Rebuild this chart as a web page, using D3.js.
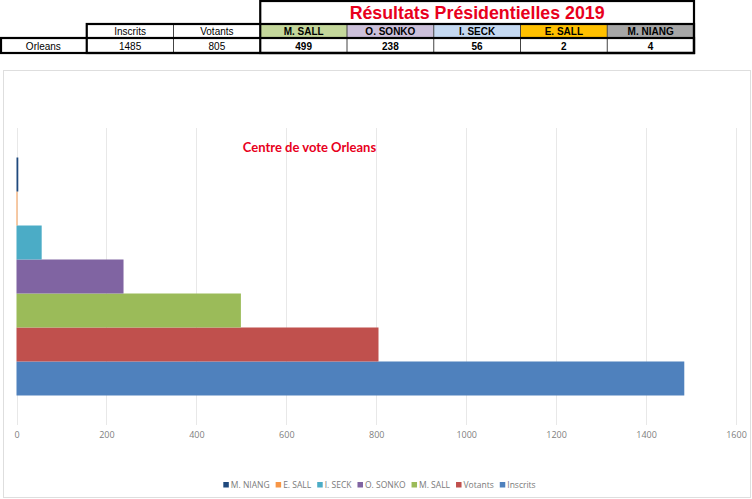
<!DOCTYPE html>
<html><head><meta charset="utf-8">
<script src="https://cdn.jsdelivr.net/npm/d3@7"></script>
<style>
html,body{margin:0;padding:0;background:#fff;}
svg{display:block;}
</style></head>
<body>
<svg id="c" width="752" height="499"></svg>
<script>
// ---- data ----
const categories = ["Orleans"];
const series = ["Inscrits", "Votants", "M. SALL", "O. SONKO", "I. SECK", "E. SALL", "M. NIANG"];
const values = [1485, 805, 499, 238, 56, 2, 4];
const seriesColors = ["#4f81bd", "#c0504d", "#9bbb59", "#8064a2", "#4bacc6", "#f79646", "#1f497d"];
const headerFills = ["#ffffff", "#ffffff", "#c4d79b", "#ccc0da", "#c5d9f1", "#ffc000", "#a6a6a6"];
const tickValues = [0, 200, 400, 600, 800, 1000, 1200, 1400, 1600];
const tableTitle = "Résultats Présidentielles 2019";
const chartTitle = "Centre de vote Orleans";
const legendOrder = ["M. NIANG", "E. SALL", "I. SECK", "O. SONKO", "M. SALL", "Votants", "Inscrits"];

const svg = d3.select("#c");

// ---- table ----
const colX = d3.scaleBand().domain(["label"].concat(series)).range([0, 694]);
const tb = svg.append("g").attr("font-family", "'Liberation Sans', Arial, sans-serif");
const rowY = {title: [0.5, 24], head: [24, 38], data: [38, 53]};
// title cell
tb.append("rect").attr("x", colX("M. SALL")).attr("y", rowY.title[0])
  .attr("width", colX("M. NIANG") + colX.bandwidth() - colX("M. SALL")).attr("height", rowY.title[1] - rowY.title[0])
  .attr("fill", "#fff");
tb.append("text").attr("x", (colX("M. SALL") + colX("M. NIANG") + colX.bandwidth()) / 2).attr("y", 19)
  .attr("text-anchor", "middle").attr("font-size", 17.8).attr("font-weight", "bold").attr("fill", "#e8001c")
  .text(tableTitle);
// header cells
series.forEach((s, i) => {
  tb.append("rect").attr("x", colX(s)).attr("y", rowY.head[0]).attr("width", colX.bandwidth())
    .attr("height", rowY.head[1] - rowY.head[0]).attr("fill", headerFills[i]);
  tb.append("text").attr("x", colX(s) + colX.bandwidth() / 2).attr("y", 35)
    .attr("text-anchor", "middle").attr("font-size", 10).attr("font-weight", i >= 2 ? "bold" : "normal")
    .attr("fill", "#000").text(s);
  tb.append("text").attr("x", colX(s) + colX.bandwidth() / 2).attr("y", 49.5)
    .attr("text-anchor", "middle").attr("font-size", 10).attr("font-weight", i >= 2 ? "bold" : "normal")
    .attr("fill", "#000").text(values[i]);
});
tb.append("text").attr("x", colX("label") + colX.bandwidth() / 2).attr("y", 49.5)
  .attr("text-anchor", "middle").attr("font-size", 10).attr("fill", "#000").text(categories[0]);
// thin inner lines
const thin = tb.append("g").attr("stroke", "#444").attr("stroke-width", 1);
series.forEach((s, i) => {
  if (i === 1 || (i > 2)) {
    thin.append("line").attr("x1", colX(s)).attr("x2", colX(s)).attr("y1", rowY.head[0]).attr("y2", rowY.data[1]);
  }
});
// thick borders
const thick = tb.append("g").attr("stroke", "#000").attr("stroke-width", 2.2).attr("fill", "none");
const right = colX("M. NIANG") + colX.bandwidth();
thick.append("rect").attr("x", colX("M. SALL")).attr("y", 1).attr("width", right - colX("M. SALL")).attr("height", 52);
thick.append("rect").attr("x", colX("Inscrits")).attr("y", rowY.head[0]).attr("width", right - colX("Inscrits")).attr("height", rowY.data[1] - rowY.head[0]);
thick.append("rect").attr("x", 1).attr("y", rowY.data[0]).attr("width", right - 1).attr("height", rowY.data[1] - rowY.data[0]);
thick.append("line").attr("x1", colX("Inscrits")).attr("x2", right).attr("y1", rowY.head[1]).attr("y2", rowY.head[1]);

// ---- chart frame ----
svg.append("rect").attr("x", 3.5).attr("y", 70.5).attr("width", 747).attr("height", 427)
  .attr("fill", "#fff").attr("stroke", "#dedede").attr("stroke-width", 1);

const x = d3.scaleLinear().domain([0, 1600]).range([16.5, 736]);
const yCat = d3.scaleBand().domain(categories).range([128, 425]).paddingInner(0).paddingOuter(0.124);
const ySer = d3.scaleBand().domain(series.slice().reverse()).range([0, yCat.bandwidth()]).padding(0);

// gridlines
const grid = svg.append("g").attr("stroke", "#e8e8e8").attr("stroke-width", 1);
tickValues.forEach(t => {
  grid.append("line").attr("x1", Math.round(x(t)) + 0.5).attr("x2", Math.round(x(t)) + 0.5)
    .attr("y1", 128).attr("y2", 425);
});

// axis labels
const axis = d3.axisBottom(x).tickValues(tickValues).tickSize(0).tickPadding(0).tickFormat(d3.format("d"));
const ax = svg.append("g").attr("transform", "translate(0,432)").call(axis);
ax.select(".domain").remove();
ax.selectAll("text").attr("fill", "#808080").attr("font-size", 9)
  .attr("font-family", "'Open Sans', 'Noto Sans', sans-serif");

// bars
svg.append("g").selectAll("rect").data(series).join("rect")
  .attr("x", x(0))
  .attr("y", s => yCat(categories[0]) + ySer(s))
  .attr("width", (s, i) => x(values[i]) - x(0))
  .attr("height", ySer.bandwidth())
  .attr("fill", (s, i) => seriesColors[i]);

// chart title
svg.append("text").attr("x", 309.5).attr("y", 152).attr("text-anchor", "middle")
  .attr("font-family", "Lato, 'Open Sans', sans-serif").attr("font-weight", "bold")
  .attr("font-size", 13).attr("fill", "#e8001c").text(chartTitle);

// legend
const lg = svg.append("g").attr("font-family", "'Open Sans', 'Noto Sans', sans-serif").attr("font-size", 8.5).attr("fill", "#7a7a7a");
const items = lg.selectAll("g").data(legendOrder).join("g");
items.append("rect").attr("width", 5.5).attr("height", 5.5).attr("y", -5)
  .attr("fill", d => seriesColors[series.indexOf(d)]);
items.append("text").attr("x", 7.5).attr("y", 0.5).text(d => d);
let cx = 0;
const pos = [];
const gap = 6;
items.each(function () {
  const w = this.querySelector("text").getComputedTextLength() + 7.5;
  pos.push(cx);
  cx += w + gap;
});
const total = cx - gap;
const startX = 379.5 - total / 2;
items.attr("transform", (d, i) => `translate(${startX + pos[i]},487)`);
</script>
</body></html>
